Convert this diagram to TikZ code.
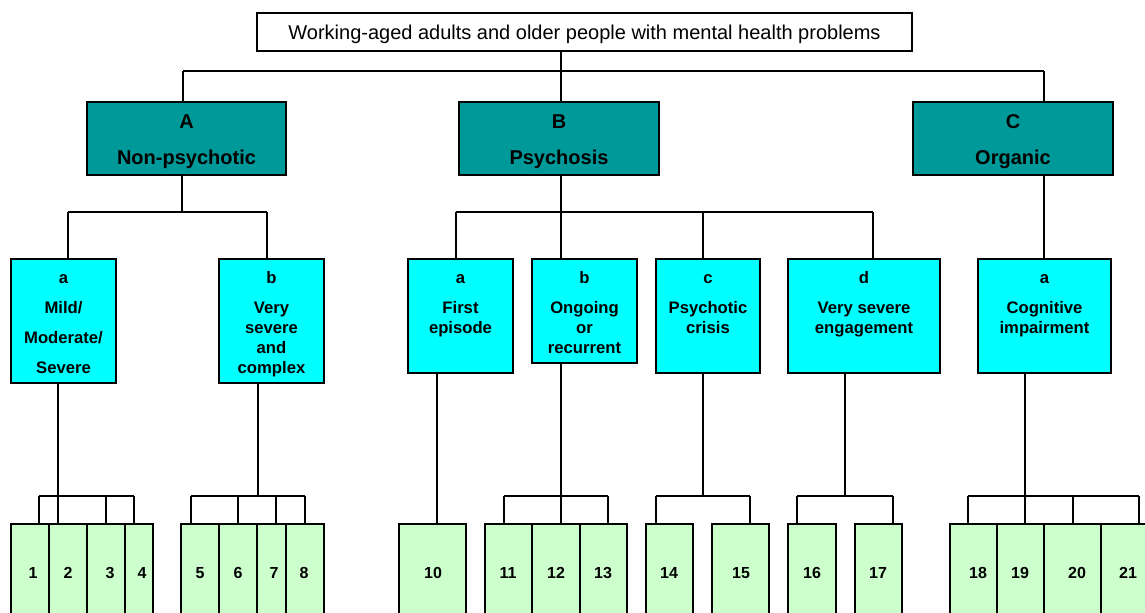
\documentclass[tikz,border=0pt]{standalone}
\usepackage{fontspec}
\setmainfont{Liberation Sans}
\definecolor{tealbox}{HTML}{009999}
\definecolor{cyanbox}{HTML}{00FFFF}
\definecolor{leafgreen}{HTML}{CCFFCC}
\newcommand\mkbox[6]{\node[#6, minimum width={(#4-#2)*0.75pt}, minimum height={(#5-#3)*0.75pt}] (#1) at ({(#2+#4)/2},{(#3+#5)/2}) {};}
\newcommand\mkleaf[4]{\mkbox{#1}{#2}{524}{#3}{620}{leafbox}\node[leaftxt] (n#1) at (#4,578) {#1};}
\newcommand\mkdrop[3]{\coordinate (#1) at (#2,496); \draw (#1) -- (#3.north -| #1);}
\begin{document}
\begin{tikzpicture}[x=0.75pt,y=-0.75pt,line width=0.9pt,
  anybox/.style={draw=black,inner sep=0pt,outer sep=0pt},
  topbox/.style={anybox,fill=white},
  catbox/.style={anybox,fill=tealbox},
  subbox/.style={anybox,fill=cyanbox},
  leafbox/.style={anybox,fill=leafgreen},
  toptxt/.style={inner sep=0pt,anchor=base,font=\fontsize{15}{18}\selectfont},
  cattxt/.style={inner sep=0pt,anchor=north,align=center,font=\fontsize{15}{18}\selectfont\bfseries},
  subtxt/.style={inner sep=0pt,anchor=north,align=center,font=\fontsize{12.5}{15}\selectfont\bfseries},
  leaftxt/.style={inner sep=0pt,anchor=base,font=\fontsize{12}{14}\selectfont\bfseries}]
\useasboundingbox (0,0) rectangle (1145,613);
\clip (0,0) rectangle (1145,613);
% boxes
\mkbox{T}{257}{13}{912}{51}{topbox}
\node[toptxt] (tT) at (584.5,39.5) {Working-aged adults and older people with mental health problems};
\mkbox{A}{87}{102}{286}{175}{catbox}
\mkbox{B}{459}{102}{659}{175}{catbox}
\mkbox{C}{913}{102}{1113}{175}{catbox}
\node[cattxt] (tA) at (186.5,111.2) {\strut A\\[9pt]Non-psychotic};
\node[cattxt] (tB) at (559,111.2) {\strut B\\[9pt]Psychosis};
\node[cattxt] (tC) at (1013,111.2) {\strut C\\[9pt]Organic};
\mkbox{Aa}{11}{259}{116}{383}{subbox}
\mkbox{Ab}{219}{259}{324}{383}{subbox}
\mkbox{Ba}{408}{259}{513}{373}{subbox}
\mkbox{Bb}{532}{259}{637}{363}{subbox}
\mkbox{Bc}{656}{259}{760}{373}{subbox}
\mkbox{Bd}{788}{259}{940}{373}{subbox}
\mkbox{Ca}{978}{259}{1111}{373}{subbox}
\node[subtxt] (tAa) at (63.5,269) {\strut a\\[7.5pt]Mild/\\[7.5pt]Moderate/\\[7.5pt]Severe};
\node[subtxt] (tAb) at (271.5,269) {\strut b\\[7.5pt]Very\\severe\\and\\complex};
\node[subtxt] (tBa) at (460.5,269) {\strut a\\[7.5pt]First\\episode};
\node[subtxt] (tBb) at (584.5,269) {\strut b\\[7.5pt]Ongoing\\or\\recurrent};
\node[subtxt] (tBc) at (708,269) {\strut c\\[7.5pt]Psychotic\\crisis};
\node[subtxt] (tBd) at (864,269) {\strut d\\[7.5pt]Very severe\\engagement};
\node[subtxt] (tCa) at (1044.5,269) {\strut a\\[7.5pt]Cognitive\\impairment};
% leaves
\mkleaf{1}{11}{49}{33}
\mkleaf{2}{49}{87}{68}
\mkleaf{3}{87}{125}{110}
\mkleaf{4}{125}{153}{142}
\mkleaf{5}{181}{219}{200}
\mkleaf{6}{219}{257}{238}
\mkleaf{7}{257}{286}{274}
\mkleaf{8}{286}{324}{304}
\mkleaf{10}{399}{466}{433}
\mkleaf{11}{485}{532}{508}
\mkleaf{12}{532}{580}{556}
\mkleaf{13}{580}{627}{603}
\mkleaf{14}{646}{693}{669}
\mkleaf{15}{712}{769}{741}
\mkleaf{16}{788}{836}{812}
\mkleaf{17}{855}{902}{878}
\mkleaf{18}{950}{997}{978}
\mkleaf{19}{997}{1044}{1020}
\mkleaf{20}{1044}{1101}{1077}
\mkleaf{21}{1101}{1160}{1128}
% top level connectors
\coordinate (j0) at (561,71);
\coordinate (jA0) at (183,71);
\coordinate (jC0) at (1044,71);
\draw (T.south -| j0) -- (j0);
\draw (jA0) -- (jC0);
\draw (jA0) -- (A.north -| jA0);
\draw (j0) -- (B.north -| j0);
\draw (jC0) -- (C.north -| jC0);
% A children
\coordinate (jA) at (182,212);
\coordinate (jAa) at (68,212);
\coordinate (jAb) at (267,212);
\draw (A.south -| jA) -- (jA);
\draw (jAa) -- (jAb);
\draw (jAa) -- (Aa.north -| jAa);
\draw (jAb) -- (Ab.north -| jAb);
% B children
\coordinate (jB) at (561,212);
\coordinate (jBa) at (456,212);
\coordinate (jBc) at (703,212);
\coordinate (jBd) at (873,212);
\draw (B.south -| jB) -- (jB);
\draw (jBa) -- (jBd);
\draw (jBa) -- (Ba.north -| jBa);
\draw (jB) -- (Bb.north -| jB);
\draw (jBc) -- (Bc.north -| jBc);
\draw (jBd) -- (Bd.north -| jBd);
% C child
\draw (C.south -| jC0) -- (Ca.north -| jC0);
% Aa leaves
\coordinate (kAa) at (58,496);
\draw (Aa.south -| kAa) -- (kAa);
\mkdrop{k1}{39}{1}
\mkdrop{k2}{58}{2}
\mkdrop{k3}{106}{3}
\mkdrop{k4}{134}{4}
\draw (k1) -- (k4);
% Ab leaves
\coordinate (kAb) at (258,496);
\draw (Ab.south -| kAb) -- (kAb);
\mkdrop{k5}{191}{5}
\mkdrop{k6}{238}{6}
\mkdrop{k7}{276}{7}
\mkdrop{k8}{305}{8}
\draw (k5) -- (k8);
% Ba leaf
\coordinate (kBa) at (437,496);
\draw (Ba.south -| kBa) -- (10.north -| kBa);
% Bb leaves
\coordinate (kBb) at (561,496);
\draw (Bb.south -| kBb) -- (kBb);
\mkdrop{k11}{504}{11}
\mkdrop{k12}{561}{12}
\mkdrop{k13}{608}{13}
\draw (k11) -- (k13);
% Bc leaves
\coordinate (kBc) at (703,496);
\draw (Bc.south -| kBc) -- (kBc);
\mkdrop{k14}{656}{14}
\mkdrop{k15}{750}{15}
\draw (k14) -- (k15);
% Bd leaves
\coordinate (kBd) at (845,496);
\draw (Bd.south -| kBd) -- (kBd);
\mkdrop{k16}{797}{16}
\mkdrop{k17}{893}{17}
\draw (k16) -- (k17);
% Ca leaves
\coordinate (kCa) at (1025,496);
\draw (Ca.south -| kCa) -- (kCa);
\mkdrop{k18}{968}{18}
\mkdrop{k19}{1025}{19}
\mkdrop{k20}{1073}{20}
\mkdrop{k21}{1139}{21}
\draw (k18) -- (k21);
\end{tikzpicture}
\end{document}
